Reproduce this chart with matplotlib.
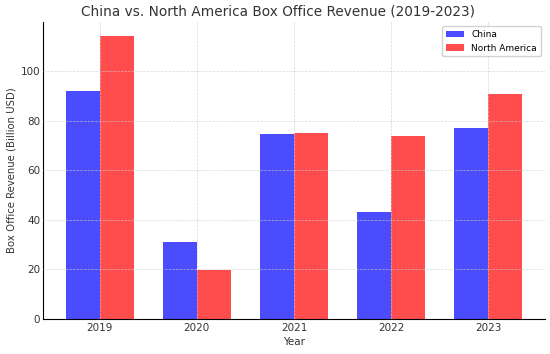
import numpy as np
import matplotlib
matplotlib.use('Agg')
import matplotlib.pyplot as plt

# Data
years = ['2019', '2020', '2021', '2022', '2023']
china = [92.2, 31.2, 74.5, 43.3, 77.2]
north_america = [114.2, 19.9, 75.2, 74.0, 90.8]

x = np.arange(len(years))
width = 0.35

fig, ax = plt.subplots(figsize=(5.5, 3.54), dpi=100)

ax.bar(x - width / 2, china, width, label='China', color='blue', alpha=0.7)
ax.bar(x + width / 2, north_america, width, label='North America', color='red', alpha=0.7)

ax.set_title('China vs. North America Box Office Revenue (2019-2023)',
             fontsize=9.8, color='#333333', x=0.468, pad=5)
ax.set_xlabel('Year', fontsize=7.5, color='#333333', labelpad=3)
ax.set_ylabel('Box Office Revenue (Billion USD)', fontsize=7.3, color='#333333', labelpad=3)
ax.set_xticks(x)
ax.set_xticklabels(years)
ax.tick_params(labelsize=7.5, colors='#333333', length=0)
ax.tick_params(axis='x', pad=3)
ax.tick_params(axis='y', pad=2)

ax.grid(True, linestyle='--', linewidth=0.5, color='#cccccc', alpha=0.8)
ax.set_axisbelow(False)
for s in ['top', 'right']:
    ax.spines[s].set_visible(False)

ax.legend(fontsize=6.5, loc='upper right', framealpha=0.9)

plt.subplots_adjust(left=0.078, right=0.991, top=0.938, bottom=0.099)
plt.savefig('out.png')
